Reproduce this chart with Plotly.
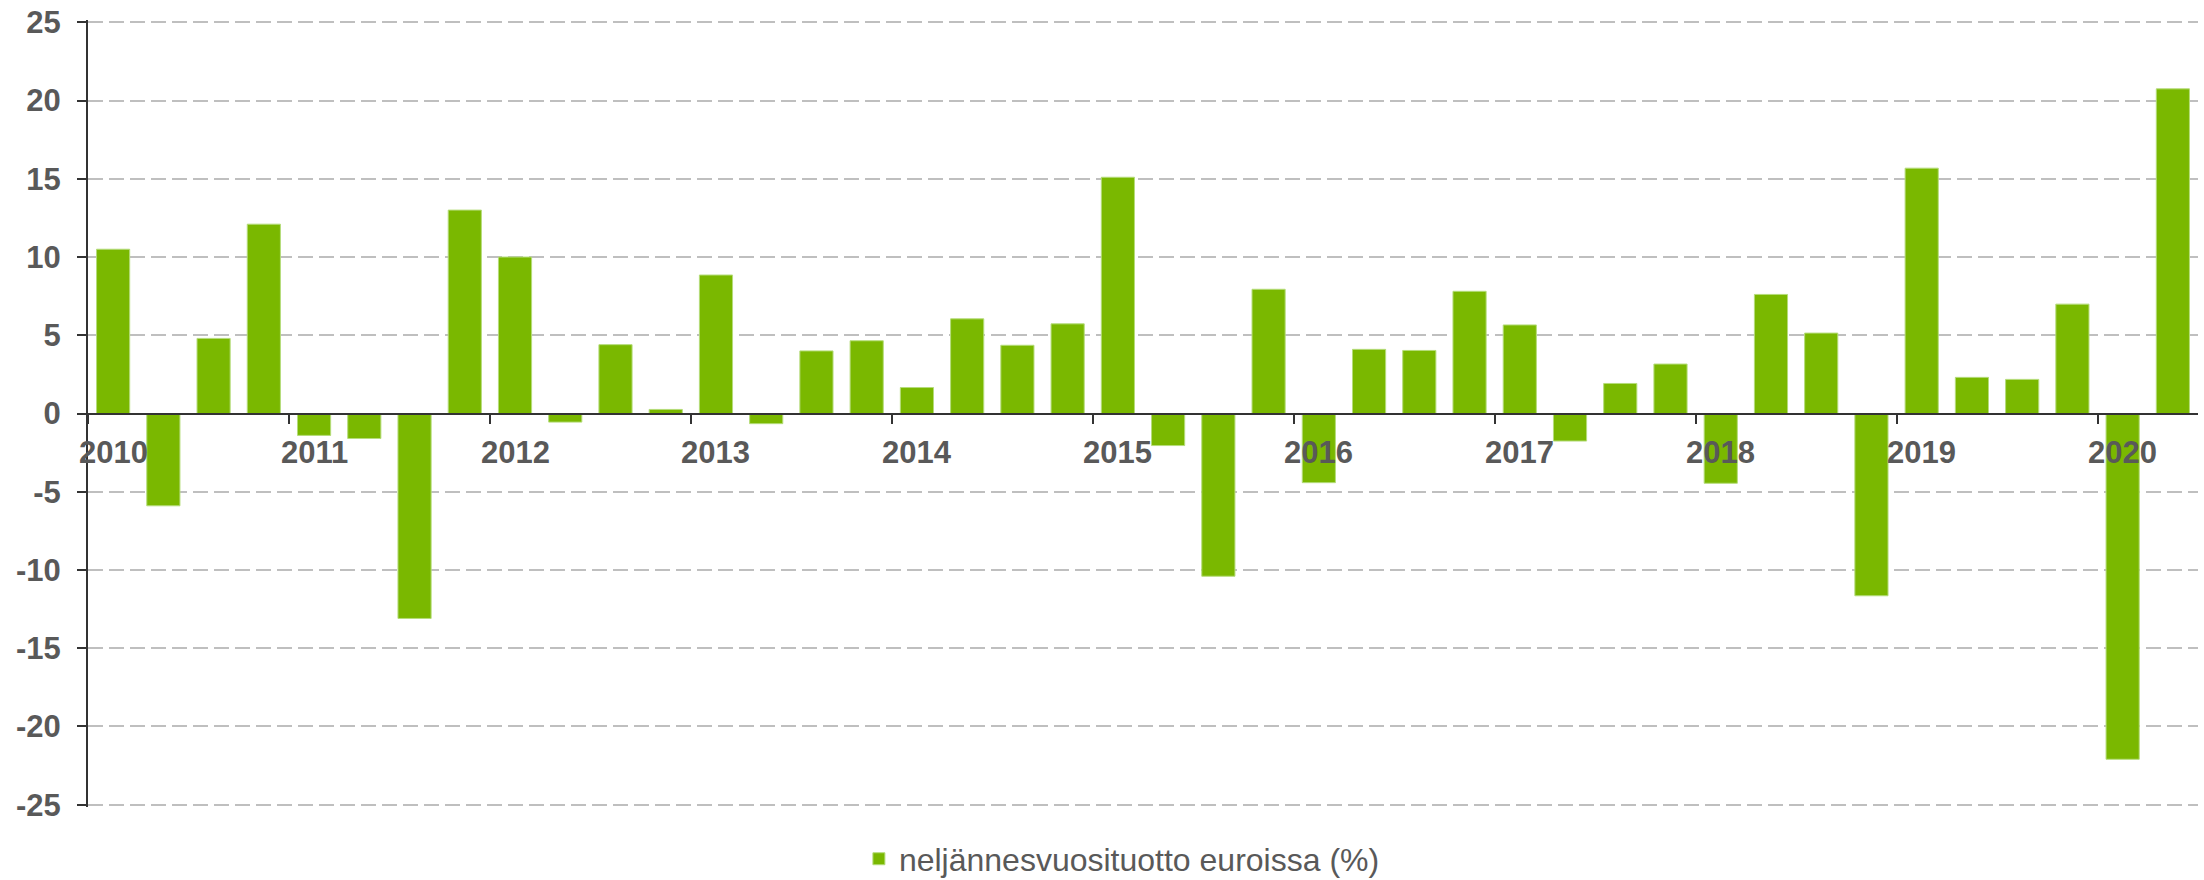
import plotly.graph_objects as go

quarters = [
    "2010 Q1", "2010 Q2", "2010 Q3", "2010 Q4",
    "2011 Q1", "2011 Q2", "2011 Q3", "2011 Q4",
    "2012 Q1", "2012 Q2", "2012 Q3", "2012 Q4",
    "2013 Q1", "2013 Q2", "2013 Q3", "2013 Q4",
    "2014 Q1", "2014 Q2", "2014 Q3", "2014 Q4",
    "2015 Q1", "2015 Q2", "2015 Q3", "2015 Q4",
    "2016 Q1", "2016 Q2", "2016 Q3", "2016 Q4",
    "2017 Q1", "2017 Q2", "2017 Q3", "2017 Q4",
    "2018 Q1", "2018 Q2", "2018 Q3", "2018 Q4",
    "2019 Q1", "2019 Q2", "2019 Q3", "2019 Q4",
    "2020 Q1", "2020 Q2",
]

returns = [
    10.5, -5.9, 4.8, 12.1,
    -1.4, -1.6, -13.1, 13.0,
    10.0, -0.55, 4.4, 0.26,
    8.85, -0.65, 4.0, 4.65,
    1.66, 6.05, 4.36, 5.73,
    15.1, -2.05, -10.4, 7.94,
    -4.42, 4.1, 4.03, 7.81,
    5.66, -1.76, 1.92, 3.16,
    -4.46, 7.61, 5.14, -11.65,
    15.68, 2.31, 2.18, 6.99,
    -22.1, 20.75,
]

year_tick_cats = ["2010 Q1", "2011 Q1", "2012 Q1", "2013 Q1", "2014 Q1", "2015 Q1",
                  "2016 Q1", "2017 Q1", "2018 Q1", "2019 Q1", "2020 Q1"]
year_tick_text = ["2010", "2011", "2012", "2013", "2014", "2015",
                  "2016", "2017", "2018", "2019", "2020"]

y_tick_vals = [-25, -20, -15, -10, -5, 0, 5, 10, 15, 20, 25]
y_tick_text = ["-25", "-20", "-15", "-10", "-5", "0", "5", "10", "15", "20", "25"]

series_name = "neljännesvuosituotto euroissa (%)"

FONT = "Liberation Sans, Arial, Helvetica, sans-serif"
TXT = "#595959"
AX = "#333333"

# category positions on a linear axis (index of each quarter)
x_pos = list(range(len(quarters)))
label_pos = [quarters.index(q) for q in year_tick_cats]
boundary_pos = [p - 0.5 for p in label_pos]

fig = go.Figure()
fig.add_trace(go.Bar(
    x=x_pos,
    y=returns,
    hovertext=quarters,
    name=series_name,
    marker=dict(color="#7AB800", line=dict(color="#B5DC7A", width=1)),
    showlegend=True,
))

# year labels sitting just under the zero line, centred on each year's first quarter
for pos, txt in zip(label_pos, year_tick_text):
    fig.add_annotation(
        x=pos, y=0, xref="x", yref="y",
        text="<b>" + txt + "</b>",
        showarrow=False,
        xanchor="center", yanchor="middle",
        yshift=-39,
        font=dict(size=31, color=TXT, family=FONT),
    )

fig.update_layout(
    width=2204,
    height=880,
    margin=dict(l=88, r=6, t=20, b=73, autoexpand=False),
    paper_bgcolor="white",
    plot_bgcolor="white",
    bargap=0.34,
    font=dict(family=FONT, color=TXT),
    showlegend=True,
    legend=dict(
        orientation="h",
        x=0.49, xanchor="center",
        y=-0.066, yanchor="middle",
        font=dict(size=32, color=TXT, family=FONT),
        bgcolor="rgba(0,0,0,0)",
    ),
    xaxis=dict(
        type="linear",
        range=[-0.5, len(quarters) - 0.5],
        tickmode="array",
        tickvals=label_pos,
        ticktext=year_tick_text,
        showticklabels=False,
        ticks="outside",
        ticklen=11,
        tickwidth=2,
        tickcolor="rgba(0,0,0,0)",
        minor=dict(
            tickmode="array",
            tickvals=boundary_pos,
            ticks="outside",
            ticklen=9,
            tickwidth=2,
            tickcolor=AX,
            showgrid=False,
        ),
        showline=True,
        linecolor=AX,
        linewidth=2,
        showgrid=False,
        zeroline=False,
        anchor="free",
        position=0.5,
        automargin=False,
    ),
    yaxis=dict(
        range=[-25.15, 25.15],
        tickmode="array",
        tickvals=y_tick_vals,
        ticktext=y_tick_text,
        ticks="outside",
        ticklen=9,
        tickwidth=2,
        tickcolor=AX,
        showline=True,
        linecolor=AX,
        linewidth=2,
        showgrid=True,
        gridcolor="#BFBFBF",
        gridwidth=2,
        griddash="15px,6px",
        zeroline=False,
        automargin=False,
        ticklabelstandoff=10,
        tickfont=dict(size=31, color=TXT, family=FONT, weight="bold"),
    ),
)

fig.write_html("out.html")
